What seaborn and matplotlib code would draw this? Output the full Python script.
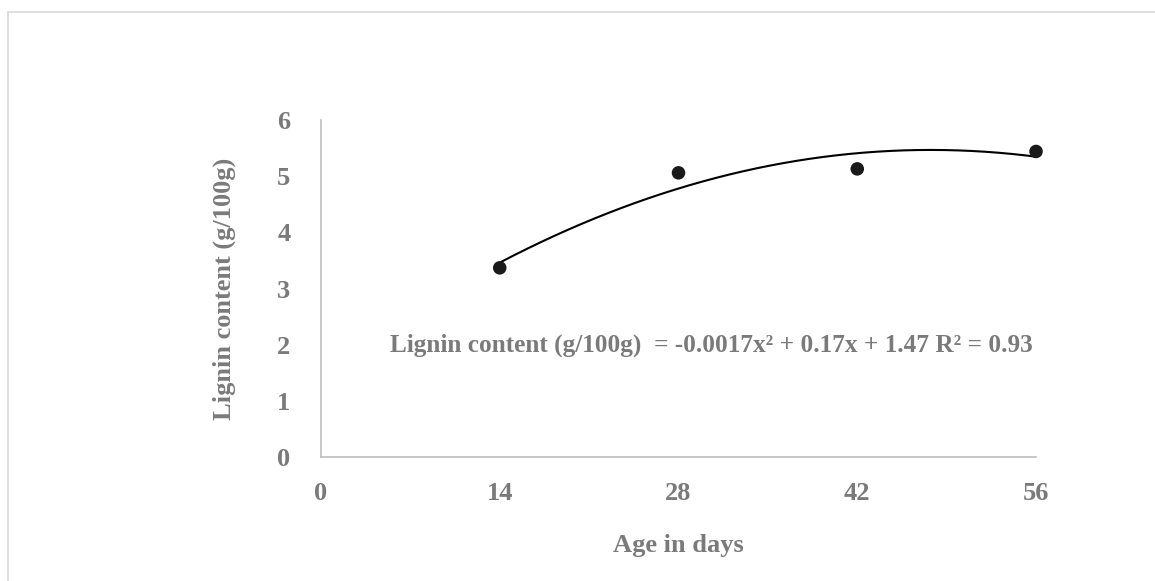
import numpy as np
import pandas as pd
import matplotlib
matplotlib.use("Agg")
import matplotlib.pyplot as plt
import seaborn as sns
from matplotlib.lines import Line2D

# values
AGE_DAYS = [14, 28, 42, 56]
LIGNIN = [3.37, 5.06, 5.13, 5.44]
X_TICKS = [0, 14, 28, 42, 56]
Y_TICKS = [0, 1, 2, 3, 4, 5, 6]
EQUATION = "Lignin content (g/100g)  = -0.0017x\u00b2 + 0.17x + 1.47 R\u00b2 = 0.93"

GREY_TEXT = "#7a7a7a"
GREY_AXIS = "#bfbfbf"
FONT = ["Liberation Serif", "DejaVu Serif"]


def main():
    sns.set_style("white")
    plt.rcParams["font.family"] = FONT
    plt.rcParams["font.weight"] = "bold"

    df = pd.DataFrame({"age": AGE_DAYS, "lignin": LIGNIN})

    fig = plt.figure(figsize=(11.55, 5.81), dpi=100)
    ax = fig.add_axes([0.2779, 0.2129, 0.897 - 0.2779, 0.7935 - 0.2129])

    # polynomial (order 2) trendline through the points, like Excel
    coef = np.polyfit(df["age"], df["lignin"], 2)
    xs = np.linspace(df["age"].min(), df["age"].max(), 200)
    trend = pd.DataFrame({"age": xs, "lignin": np.polyval(coef, xs)})
    sns.lineplot(data=trend, x="age", y="lignin", color="black", linewidth=1.5, ax=ax)
    sns.scatterplot(data=df, x="age", y="lignin", color="#1a1a1a", s=95,
                    edgecolor="none", ax=ax, zorder=3, clip_on=False)

    ax.set(xlim=(0, 56), ylim=(0, 6), xticks=X_TICKS, yticks=Y_TICKS,
           xlabel="", ylabel="")
    for side in ["top", "right"]:
        ax.spines[side].set_visible(False)
    for side in ["left", "bottom"]:
        ax.spines[side].set_color(GREY_AXIS)
        ax.spines[side].set_linewidth(1.2)
    ax.tick_params(axis="both", length=0, labelsize=19, colors=GREY_TEXT)
    ax.tick_params(axis="y", pad=22)
    ax.tick_params(axis="x", pad=18)
    for t in ax.get_xticklabels() + ax.get_yticklabels():
        t.set_fontweight("bold")

    ax.set_xlabel("Age in days", fontsize=19, color=GREY_TEXT,
                  fontweight="bold", labelpad=21)
    ax.set_ylabel("Lignin content (g/100g)", fontsize=19, color=GREY_TEXT,
                  fontweight="bold", labelpad=30)

    ax.text(5.4, 2.0, EQUATION, fontsize=18.2, color=GREY_TEXT,
            fontweight="bold", ha="left", va="center")

    # chart area border (top and left edges only visible)
    fig.add_artist(Line2D([8 / 1155, 1.0], [1 - 11.5 / 581] * 2,
                          transform=fig.transFigure, color="#d9d9d9", linewidth=1.2))
    fig.add_artist(Line2D([8 / 1155] * 2, [0, 1 - 11.5 / 581],
                          transform=fig.transFigure, color="#d9d9d9", linewidth=1.2))

    fig.savefig("out.png", dpi=100)


if __name__ == "__main__":
    main()
